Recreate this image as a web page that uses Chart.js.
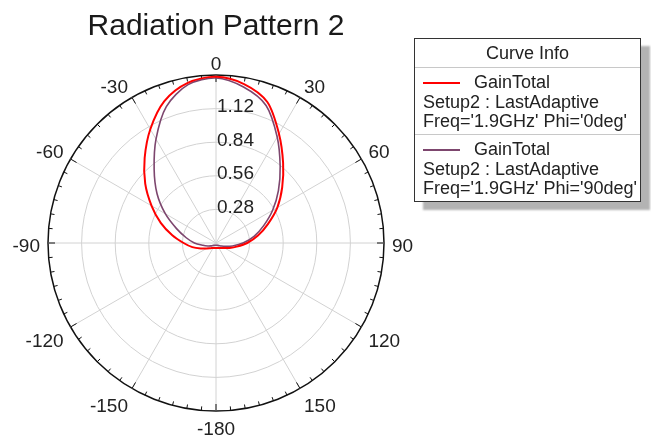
<!DOCTYPE html>
<html>
<head>
<meta charset="utf-8">
<script src="https://cdn.jsdelivr.net/npm/chart.js@4.4.1/dist/chart.umd.min.js"></script>
<style>
  html, body { margin: 0; padding: 0; background: #fff; width: 651px; height: 441px; overflow: hidden;
    font-family: "Liberation Sans", Arial, sans-serif; }
  #wrap { position: absolute; left: 0; top: 0; width: 432px; height: 441px; }
  #legend { position: absolute; left: 414px; top: 38px; width: 225px; height: 162px;
    border: 1px solid #333; background: #fff; box-shadow: 9px 8px 2px #b3b3b3; color: #222; font-size: 18px; }
  #legend .hdr { height: 28px; line-height: 29px; text-align: center; border-bottom: 1px solid #c8c8c8; }
  #legend .item { height: 66px; padding-top: 5px; box-sizing: border-box; line-height: 19.5px; padding-left: 8px; white-space: nowrap; }
  #legend .item + .item { height: 67px; border-top: 1px solid #c8c8c8; }
  #legend .sw { display: inline-block; width: 37px; height: 2px; vertical-align: middle; margin-right: 14px; }
</style>
</head>
<body>
<div id="wrap"><canvas id="c" width="432" height="441"></canvas></div>
<div id="legend"></div>
<script>
// Theta angles (deg), clockwise from top
const ANGLES = [0, 10, 20, 30, 40, 50, 60, 70, 80, 90, 100, 110, 120, 130, 140, 150, 160, 170,
  -180, -170, -160, -150, -140, -130, -120, -110, -100, -90, -80, -70, -60, -50, -40, -30, -20, -10];

// GainTotal, Phi = 0deg
const GAIN_PHI0 = [1.385, 1.345, 1.25, 1.05, 0.87, 0.72, 0.59, 0.46, 0.355, 0.26, 0.175, 0.12, 0.085, 0.065, 0.055, 0.048, 0.045, 0.043,
  0.042, 0.043, 0.045, 0.048, 0.055, 0.068, 0.09, 0.135, 0.2, 0.27, 0.37, 0.49, 0.62, 0.77, 0.925, 1.095, 1.258, 1.355];

// GainTotal, Phi = 90deg
const GAIN_PHI90 = [1.375, 1.32, 1.22, 1.02, 0.832, 0.679, 0.545, 0.423, 0.322, 0.225, 0.14, 0.08, 0.05, 0.035, 0.027, 0.022, 0.02, 0.019,
  0.019, 0.019, 0.02, 0.022, 0.026, 0.033, 0.048, 0.072, 0.11, 0.18, 0.252, 0.35, 0.488, 0.642, 0.802, 1.0, 1.21, 1.34];

const RADIAL_TICKS = [0, 0.28, 0.56, 0.84, 1.12, 1.4];

const SERIES_NAMES = ['GainTotal', 'GainTotal'];
const SERIES_SETUP = ['Setup2 : LastAdaptive', 'Setup2 : LastAdaptive'];
const SERIES_FREQ = ["Freq='1.9GHz' Phi='0deg'", "Freq='1.9GHz' Phi='90deg'"];
const LEGEND_TITLE = 'Curve Info';

const FONT = '"Liberation Sans", Arial, sans-serif';

const polarFrame = {
  id: 'polarFrame',
  beforeDatasetsDraw(chart) {
    const s = chart.scales.r;
    const ctx = chart.ctx;
    const R = s.drawingArea;
    ctx.save();
    // outer ring tick marks every 5 degrees
    ctx.strokeStyle = '#111';
    ctx.lineWidth = 1;
    const n = s._pointLabels.length * 2;
    for (let k = 0; k < n; k++) {
      const idx = k / 2;
      const len = (k % 6 === 0) ? 7 : 4;
      const p1 = s.getPointPosition(idx, R);
      const p2 = s.getPointPosition(idx, R - len);
      ctx.beginPath();
      ctx.moveTo(p1.x, p1.y);
      ctx.lineTo(p2.x, p2.y);
      ctx.stroke();
    }
    ctx.font = '19px ' + FONT;
    ctx.fillStyle = '#222';
    ctx.textBaseline = 'alphabetic';
    // radial tick labels
    ctx.textAlign = 'left';
    s.ticks.forEach((t, i) => {
      if (i === 0 || i === s.ticks.length - 1) return;
      const d = s.getDistanceFromCenterForValue(t.value);
      ctx.fillText(t.label, s.xCenter + 1, s.yCenter - d + 3.5);
    });
    // angle labels
    const P = 8, OFF = 2.5, H = 13.6;
    s._pointLabels.forEach((lab, i) => {
      if (!lab) return;
      const deg = Math.round(s.getIndexAngle(i) * 180 / Math.PI) % 360;
      const p = s.getPointPosition(i, R + P);
      ctx.textAlign = (deg === 0 || deg === 180) ? 'center' : (deg < 180 ? 'left' : 'right');
      let y;
      if (deg === 90 || deg === 270) y = p.y + OFF + H / 2;
      else if (deg < 90 || deg > 270) y = p.y + OFF;
      else y = p.y + OFF + H;
      ctx.fillText(lab, p.x, y);
    });
    ctx.restore();
  }
};

const htmlLegend = {
  id: 'htmlLegend',
  afterUpdate(chart) {
    const box = document.getElementById('legend');
    box.innerHTML = '';
    const hdr = document.createElement('div');
    hdr.className = 'hdr';
    hdr.textContent = LEGEND_TITLE;
    box.appendChild(hdr);
    chart.data.datasets.forEach((ds, i) => {
      const item = document.createElement('div');
      item.className = 'item';
      const l1 = document.createElement('div');
      const sw = document.createElement('span');
      sw.className = 'sw';
      sw.style.background = ds.borderColor;
      l1.appendChild(sw);
      l1.appendChild(document.createTextNode(ds.label));
      const l2 = document.createElement('div');
      l2.textContent = SERIES_SETUP[i];
      const l3 = document.createElement('div');
      l3.textContent = SERIES_FREQ[i];
      item.appendChild(l1); item.appendChild(l2); item.appendChild(l3);
      box.appendChild(item);
    });
  }
};

new Chart(document.getElementById('c'), {
  type: 'radar',
  data: {
    labels: ANGLES.map(String),
    datasets: [
      { label: SERIES_NAMES[0], data: GAIN_PHI0, borderColor: '#ff0000', borderWidth: 2,
        pointRadius: 0, fill: false, tension: 0.3 },
      { label: SERIES_NAMES[1], data: GAIN_PHI90, borderColor: '#7d466e', borderWidth: 1.6,
        pointRadius: 0, fill: false, tension: 0.3 }
    ]
  },
  options: {
    responsive: false,
    animation: false,
    events: [],
    layout: { padding: { left: 48, right: 48, top: 0, bottom: 30 } },
    plugins: {
      legend: { display: false },
      tooltip: { enabled: false },
      title: {
        display: true, text: 'Radiation Pattern 2', color: '#1a1a1a',
        font: { family: FONT, size: 30, weight: 'normal', lineHeight: 1.2 },
        padding: { top: 9, bottom: 30 }
      }
    },
    scales: {
      r: {
        min: 0, max: 1.4, startAngle: 0,
        afterBuildTicks: (scale) => { scale.ticks = RADIAL_TICKS.map(v => ({ value: v })); },
        ticks: { display: false, callback: (v) => Number(v).toFixed(2) },
        grid: {
          circular: true,
          color: (c) => (c.tick && c.tick.value >= 1.4 - 1e-9) ? '#111' : '#d2d2d2',
          lineWidth: (c) => (c.tick && c.tick.value >= 1.4 - 1e-9) ? 1.5 : 1
        },
        angleLines: {
          display: true, color: '#d2d2d2',
          lineWidth: (c) => (c.index % 3 === 0 ? 1 : 0)
        },
        pointLabels: {
          display: false,
          callback: (label, i) => (i % 3 === 0 ? label : '')
        }
      }
    }
  },
  plugins: [polarFrame, htmlLegend]
});
</script>
</body>
</html>
